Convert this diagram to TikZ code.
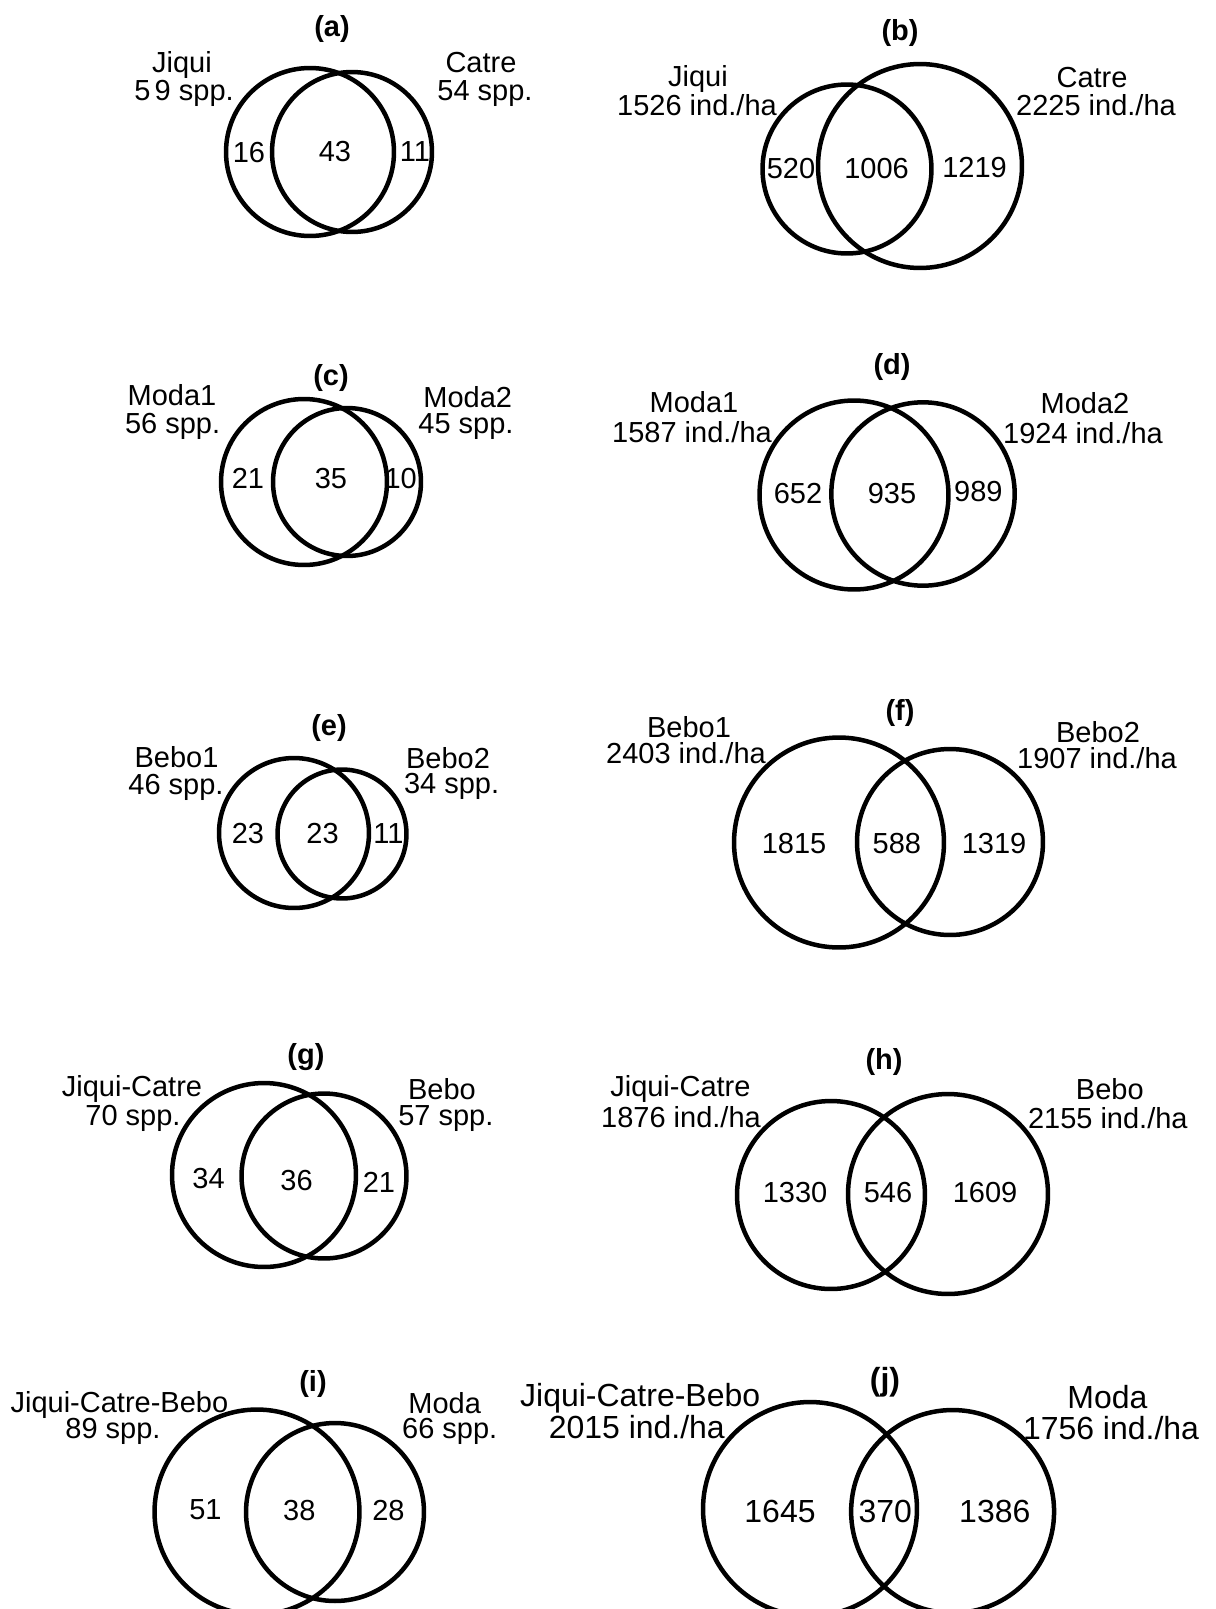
\documentclass[tikz,border=0pt]{standalone}
\usepackage{fontspec}
\setmainfont{Liberation Sans}
\begin{document}
\begin{tikzpicture}[x=0.02cm,y=-0.02cm,
  venn/.style={draw=black,line width=0.09cm},
  lbl/.style={anchor=base,inner sep=0pt,font=\fontsize{16.5}{19}\selectfont},
  lblj/.style={anchor=base,inner sep=0pt,font=\fontsize{18.2}{21}\selectfont},
  ttl/.style={anchor=base,inner sep=0pt,font=\fontsize{16.5}{19}\selectfont\bfseries},
  ttlj/.style={anchor=base,inner sep=0pt,font=\fontsize{18.2}{21}\selectfont\bfseries}]
\useasboundingbox (0,0) rectangle (1215,1609);
\clip (0,0) rectangle (1215,1609);
% (a)
\node[ttl] (ta) at (332,36) {(a)};
\node[lbl] (a1) at (182,72) {Jiqui};
\node[lbl] (a2) at (184,100) {5\kern0.15em9 spp.};
\node[lbl] (a3) at (481,72) {Catre};
\node[lbl] (a4) at (485,100) {54 spp.};
\draw[venn] (310,152) circle[radius=1.68cm];
\draw[venn] (352,152) circle[radius=1.60cm];
\node[lbl] (a5) at (249,162) {16};
\node[lbl] (a6) at (335,161) {43};
\node[lbl] (a7) at (415,161) {11};
% (b)
\node[ttl] (tb) at (900,40.5) {(b)};
\node[lbl] (b1) at (698,86) {Jiqui};
\node[lbl] (b2) at (697,115) {1526 ind./ha};
\node[lbl] (b3) at (1092,87) {Catre};
\node[lbl] (b4) at (1096,115) {2225 ind./ha};
\draw[venn] (847,169) circle[radius=1.69cm];
\draw[venn] (920,166) circle[radius=2.04cm];
\node[lbl] (b5) at (791,178.5) {520};
\node[lbl] (b6) at (876.5,178.5) {1006};
\node[lbl] (b7) at (974.5,177.5) {1219};
% (c)
\node[ttl] (tc) at (331,385.5) {(c)};
\node[lbl] (c1) at (172,405.5) {Moda1};
\node[lbl] (c2) at (172.6,433) {56 spp.};
\node[lbl] (c3) at (467.7,407) {Moda2};
\node[lbl] (c4) at (466,433.5) {45 spp.};
\draw[venn] (304,482) circle[radius=1.66cm];
\draw[venn] (347,482) circle[radius=1.48cm];
\node[lbl] (c5) at (248,488.5) {21};
\node[lbl] (c6) at (331,488.5) {35};
\node[lbl] (c7) at (400.7,488.5) {10};
% (d)
\node[ttl] (td) at (892,374) {(d)};
\node[lbl] (d1) at (694,412) {Moda1};
\node[lbl] (d2) at (692,442) {1587 ind./ha};
\node[lbl] (d3) at (1085,413) {Moda2};
\node[lbl] (d4) at (1083,443) {1924 ind./ha};
\draw[venn] (854,495) circle[radius=1.89cm];
\draw[venn] (923,494) circle[radius=1.834cm];
\node[lbl] (d5) at (798,503.5) {652};
\node[lbl] (d6) at (892,503.5) {935};
\node[lbl] (d7) at (978.4,501.5) {989};
% (e)
\node[ttl] (te) at (329,735.5) {(e)};
\node[lbl] (e1) at (176.5,767.5) {Bebo1};
\node[lbl] (e2) at (176,794.5) {46 spp.};
\node[lbl] (e3) at (448,768) {Bebo2};
\node[lbl] (e4) at (451.6,793.8) {34 spp.};
\draw[venn] (294,833) circle[radius=1.50cm];
\draw[venn] (342,834) circle[radius=1.29cm];
\node[lbl] (e5) at (248,843.5) {23};
\node[lbl] (e6) at (322.6,843.5) {23};
\node[lbl] (e7) at (388.4,843.5) {11};
% (f)
\node[ttl] (tf) at (900,720.8) {(f)};
\node[lbl] (f1) at (689,737) {Bebo1};
\node[lbl] (f2) at (686,763) {2403 ind./ha};
\node[lbl] (f3) at (1098,742) {Bebo2};
\node[lbl] (f4) at (1097,768.8) {1907 ind./ha};
\draw[venn] (839,842.5) circle[radius=2.10cm];
\draw[venn] (950,842) circle[radius=1.86cm];
\node[lbl] (f5) at (794,853) {1815};
\node[lbl] (f6) at (896.9,853) {588};
\node[lbl] (f7) at (994,853) {1319};
% (g)
\node[ttl] (tg) at (306,1064) {(g)};
\node[lbl] (g1) at (132,1096.5) {Jiqui-Catre};
\node[lbl] (g2) at (133,1125.5) {70 spp.};
\node[lbl] (g3) at (442,1099.5) {Bebo};
\node[lbl] (g4) at (445.8,1125.5) {57 spp.};
\draw[venn] (264,1175) circle[radius=1.84cm];
\draw[venn] (324,1176) circle[radius=1.65cm];
\node[lbl] (g5) at (208.6,1188.5) {34};
\node[lbl] (g6) at (296.6,1190.5) {36};
\node[lbl] (g7) at (378.9,1192) {21};
% (h)
\node[ttl] (th) at (884,1069) {(h)};
\node[lbl] (h1) at (680.4,1096.5) {Jiqui-Catre};
\node[lbl] (h2) at (681,1127) {1876 ind./ha};
\node[lbl] (h3) at (1109.8,1099.5) {Bebo};
\node[lbl] (h4) at (1107.8,1128.8) {2155 ind./ha};
\draw[venn] (831,1195) circle[radius=1.88cm];
\draw[venn] (948,1194) circle[radius=2.00cm];
\node[lbl] (h5) at (795,1202) {1330};
\node[lbl] (h6) at (888,1202) {546};
\node[lbl] (h7) at (985,1202) {1609};
% (i)
\node[ttl] (ti) at (313,1391) {(i)};
\node[lbl] (i1) at (119.4,1412) {Jiqui-Catre-Bebo};
\node[lbl] (i2) at (113,1438) {89 spp.};
\node[lbl] (i3) at (444.7,1413) {Moda};
\node[lbl] (i4) at (449.7,1438) {66 spp.};
\draw[venn] (257,1512) circle[radius=2.05cm];
\draw[venn] (335,1512) circle[radius=1.78cm];
\node[lbl] (i5) at (205.5,1519.5) {51};
\node[lbl] (i6) at (299.3,1520) {38};
\node[lbl] (i7) at (388.4,1520) {28};
% (j)
\node[ttlj] (tj) at (885,1390) {(j)};
\node[lblj] (j1) at (640.2,1406.5) {Jiqui-Catre-Bebo};
\node[lblj] (j2) at (636.8,1438) {2015 ind./ha};
\node[lblj] (j3) at (1107.4,1408) {Moda};
\node[lblj] (j4) at (1111,1439.5) {1756 ind./ha};
\draw[venn] (810,1509) circle[radius=2.14cm];
\draw[venn] (952.6,1511.5) circle[radius=2.03cm];
\node[lblj] (j5) at (780,1522.7) {1645};
\node[lblj] (j6) at (885.3,1522.7) {370};
\node[lblj] (j7) at (994.8,1522.7) {1386};
\end{tikzpicture}
\end{document}
